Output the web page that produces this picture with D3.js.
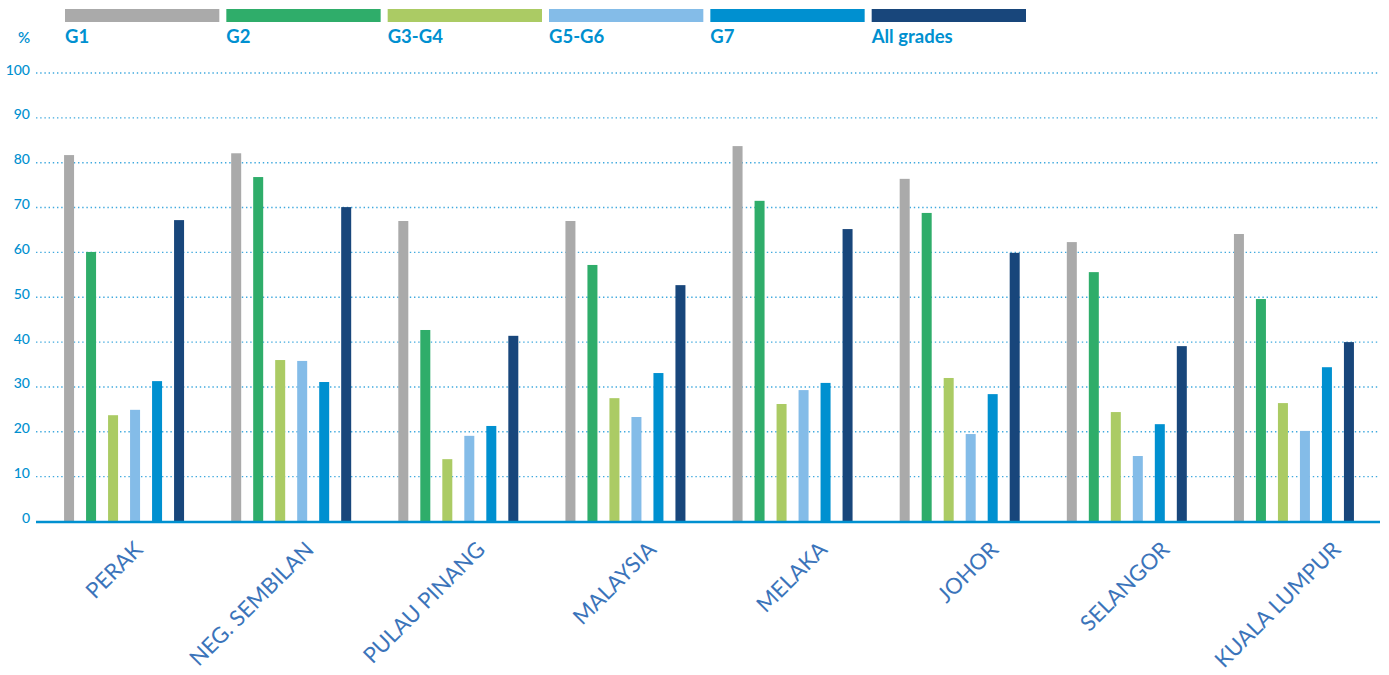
<!DOCTYPE html>
<html>
<head>
<meta charset="utf-8">
<script src="https://cdn.jsdelivr.net/npm/d3@7/dist/d3.min.js"></script>
<style>
  html, body { margin: 0; padding: 0; background: #fff; }
  svg { display: block; }
  text { font-family: Lato, "Open Sans", sans-serif; }
</style>
</head>
<body>
<svg id="chart" width="1389" height="675"></svg>
<script>
// Share of pupils (%) by grade band and state
const regions = ["PERAK", "NEG. SEMBILAN", "PULAU PINANG", "MALAYSIA", "MELAKA", "JOHOR", "SELANGOR", "KUALA LUMPUR"];
const seriesNames = ["G1", "G2", "G3-G4", "G5-G6", "G7", "All grades"];
const seriesColors = ["#aaaaaa", "#2fad6a", "#abcb64", "#84bce8", "#0090d0", "#18467b"];

const g1     = [81.7, 82.1, 67.0, 67.0, 83.7, 76.4, 62.3, 64.1];
const g2     = [60.1, 76.8, 42.7, 57.2, 71.5, 68.8, 55.6, 49.6];
const g3g4   = [23.7, 36.0, 13.9, 27.5, 26.2, 32.0, 24.4, 26.4];
const g5g6   = [24.9, 35.8, 19.1, 23.3, 29.3, 19.5, 14.6, 20.2];
const g7     = [31.3, 31.1, 21.3, 33.1, 30.9, 28.4, 21.7, 34.4];
const allGr  = [67.2, 70.1, 41.4, 52.7, 65.2, 59.9, 39.1, 40.0];
const seriesValues = [g1, g2, g3g4, g5g6, g7, allGr];

const yTicks = [0, 10, 20, 30, 40, 50, 60, 70, 80, 90, 100];

const svg = d3.select("#chart");
const blue = "#0090d0";
const labelBlue = "#3b74ba";

const plotLeft = 36, plotRight = 1380;
const y = d3.scaleLinear().domain([0, 100]).range([521.5, 73]);

const x = d3.scaleBand().domain(regions).range([40.5, 1377.5]).padding(0);
const xs = d3.scaleBand().domain(seriesNames)
  .range([x.bandwidth() / 2 - 60, x.bandwidth() / 2 + 60])
  .paddingInner(12 / 22).paddingOuter(0);

// dotted gridlines
svg.append("g").selectAll("line")
  .data(yTicks.filter(d => d > 0))
  .join("line")
  .attr("x1", plotLeft).attr("x2", plotRight)
  .attr("y1", d => y(d)).attr("y2", d => y(d))
  .attr("stroke", "#3fa9de")
  .attr("stroke-width", 1.4)
  .attr("stroke-dasharray", "1.4,2.8");

// y tick labels
svg.append("g").selectAll("text")
  .data(yTicks)
  .join("text")
  .attr("x", 30)
  .attr("y", d => y(d) + 1.5)
  .attr("text-anchor", "end")
  .attr("fill", blue)
  .attr("font-size", 14)
  .attr("font-weight", 500)
  .text(d => d);

svg.append("text")
  .attr("x", 24).attr("y", 42.5)
  .attr("text-anchor", "middle")
  .attr("fill", blue)
  .attr("font-size", 15)
  .attr("font-weight", 600)
  .text("%");

// bars
const groups = svg.append("g").selectAll("g")
  .data(regions)
  .join("g")
  .attr("transform", d => `translate(${x(d)},0)`);

groups.selectAll("rect")
  .data((r, i) => seriesNames.map((s, k) => ({ s, k, v: seriesValues[k][i] })))
  .join("rect")
  .attr("x", d => xs(d.s))
  .attr("width", xs.bandwidth())
  .attr("y", d => y(d.v))
  .attr("height", d => y(0) - y(d.v))
  .attr("fill", d => seriesColors[d.k]);

// baseline
svg.append("line")
  .attr("x1", plotLeft).attr("x2", plotRight)
  .attr("y1", 522).attr("y2", 522)
  .attr("stroke", blue)
  .attr("stroke-width", 2.6);

// rotated category labels
const labelX = d3.scalePoint().domain(regions).range([144, 1342]);
svg.append("g").selectAll("text")
  .data(regions)
  .join("text")
  .attr("transform", d => `translate(${labelX(d)},551) rotate(-45)`)
  .attr("text-anchor", "end")
  .attr("fill", labelBlue)
  .attr("font-size", 22)
  .text(d => d);

// legend
const lx = d3.scaleBand().domain(seriesNames).range([65, 1026]).paddingInner(7 / 161).paddingOuter(0);
const leg = svg.append("g").selectAll("g")
  .data(seriesNames)
  .join("g")
  .attr("transform", d => `translate(${lx(d)},0)`);
leg.append("rect")
  .attr("x", 0).attr("y", 9)
  .attr("width", lx.bandwidth()).attr("height", 13)
  .attr("fill", (d, i) => seriesColors[i]);
leg.append("text")
  .attr("x", 0).attr("y", 43)
  .attr("fill", blue)
  .attr("font-size", 18.5)
  .attr("font-weight", 700)
  .text(d => d);
</script>
</body>
</html>
